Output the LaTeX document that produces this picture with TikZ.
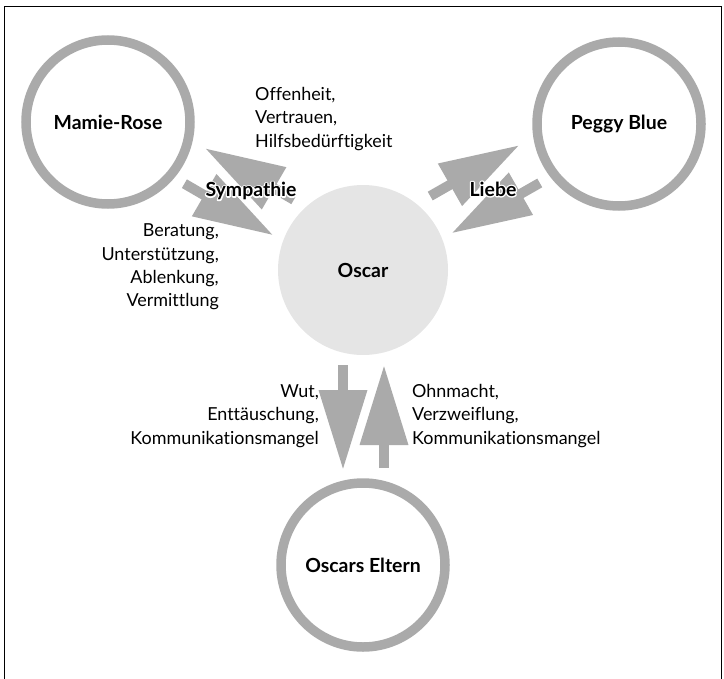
\documentclass[tikz,border=0pt]{standalone}
\usepackage{fontspec}
\setmainfont[Ligatures=NoCommon]{Lato}
\usetikzlibrary{arrows.meta}
\definecolor{ringgray}{HTML}{AAAAAA}
\definecolor{oscargray}{HTML}{E5E5E5}
% weisser Rand um die Schrift
\newcommand\halo[1]{\makebox[0pt][l]{\special{pdf:code 1 Tr 2.6 w 1 1 1 RG 1 j}#1\special{pdf:code 0 Tr 0.4 w 0 G 0 j}}#1}

\begin{document}
\begin{tikzpicture}[x=1bp,y=-1bp,
  ring/.style={circle,draw=ringgray,line width=9.5bp,minimum size=164bp,inner sep=0pt,
               font=\bfseries\fontsize{19.5}{22}\selectfont},
  kern/.style={circle,fill=oscargray,minimum size=170bp,inner sep=0pt,
               font=\bfseries\fontsize{19.5}{22}\selectfont},
  pfeil/.style={draw=ringgray,line width=10bp,-{Triangle[length=80bp,width=46bp]}},
  merkmal/.style={inner sep=0pt,font=\fontsize{18}{23.5}\selectfont},
  bezug/.style={inner sep=0pt,font=\bfseries\fontsize{19.5}{22}\selectfont}]
\useasboundingbox (0,0) rectangle (724,679);
\draw[line width=1.3bp] (4.6,700) -- (4.6,6.5) -- (721.6,6.5) -- (721.6,700);

\node[ring] (mamie)  at (108,122) {Mamie-Rose};
\node[ring] (peggy)  at (619,124) {Peggy Blue};
\node[kern] (oscar)  at (363,270) {Oscar};
\node[ring] (eltern) at (363,565) {Oscars Eltern};

% Pfeile
\draw[pfeil,shorten <=97bp,shorten >=95bp] ([shift={(-7.5,13)}]mamie.center) -- ([shift={(-7.5,13)}]oscar.center);
\draw[pfeil,shorten <=95bp,shorten >=97bp] ([shift={(13,-22.5)}]oscar.center) -- ([shift={(13,-22.5)}]mamie.center);
\draw[pfeil,shorten <=95bp,shorten >=97bp] ([shift={(-15.3,-26.9)}]oscar.center) -- ([shift={(-15.3,-26.9)}]peggy.center);
\draw[pfeil,shorten <=98bp,shorten >=95bp] ([shift={(5.9,10.4)}]peggy.center) -- ([shift={(5.9,10.4)}]oscar.center);
\draw[pfeil,shorten <=95bp,shorten >=95bp] ([xshift=-20bp]oscar.center) -- ([xshift=-20bp]eltern.center);
\draw[pfeil,shorten <=97bp,shorten >=95bp] ([xshift=21bp]eltern.center) -- ([xshift=21bp]oscar.center);

\node[merkmal,anchor=west,align=left]  (offen)    at (255,119) {Offenheit,\\Vertrauen,\\Hilfsbedürftigkeit};
\node[merkmal,anchor=east,align=right] (beratung) at (219,267) {Beratung,\\Unterstützung,\\Ablenkung,\\Vermittlung};
\node[merkmal,anchor=east,align=right] (wut)      at (319,416) {Wut,\\Enttäuschung,\\Kommunikationsmangel};
\node[merkmal,anchor=west,align=left]  (ohnmacht) at (412,416) {Ohnmacht,\\Verzweiflung,\\Kommunikationsmangel};

\node[bezug] (sympathie) at (251,191) {\halo{Sympathie}};
\node[bezug] (liebe)     at (493,189) {\halo{Liebe}};
\end{tikzpicture}
\end{document}
